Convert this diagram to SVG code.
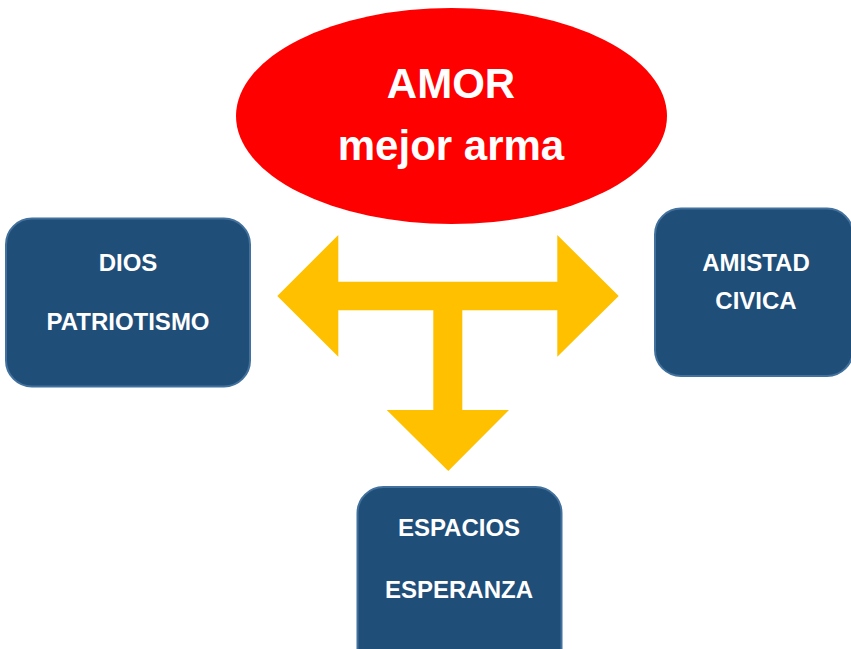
<svg xmlns="http://www.w3.org/2000/svg" width="851" height="649" viewBox="0 0 851 649">
<style>
.box{fill:#1F4E79;stroke:#41719C;stroke-width:2}
.t{font-family:"Liberation Sans",Arial,sans-serif;font-weight:bold;fill:#FFFFFF;text-anchor:middle}
.s{font-size:24px}
.b{font-size:42px}
</style>
<rect width="851" height="649" fill="#FFFFFF"/>
<g id="amor">
<ellipse cx="451.5" cy="116" rx="215.5" ry="108" fill="#FF0000"/>
<text class="t b" x="451" y="98">AMOR</text>
<text class="t b" x="451" y="160">mejor arma</text>
</g>
<g id="connectors">
<polygon fill="#FFC000" points="277.3,296 338.3,235 338.3,281.7 557.3,281.7 557.3,235 618.7,296 557.3,356.7 557.3,310.3 462.3,310.3 462.3,410 509,410 448.3,471 386.7,410 433.3,410 433.3,310.3 338.3,310.3 338.3,356.7"/>
</g>
<g id="dios">
<rect class="box" x="6" y="218.5" width="244" height="168" rx="26"/>
<text class="t s" x="128" y="271">DIOS</text>
<text class="t s" x="128" y="330">PATRIOTISMO</text>
</g>
<g id="amistad">
<rect class="box" x="655" y="208.5" width="198" height="167.5" rx="26"/>
<text class="t s" x="756" y="271">AMISTAD</text>
<text class="t s" x="756" y="309">CIVICA</text>
</g>
<g id="espacios">
<rect class="box" x="357.5" y="487" width="204" height="190" rx="26"/>
<text class="t s" x="459" y="536">ESPACIOS</text>
<text class="t s" x="459" y="598">ESPERANZA</text>
</g>
</svg>
